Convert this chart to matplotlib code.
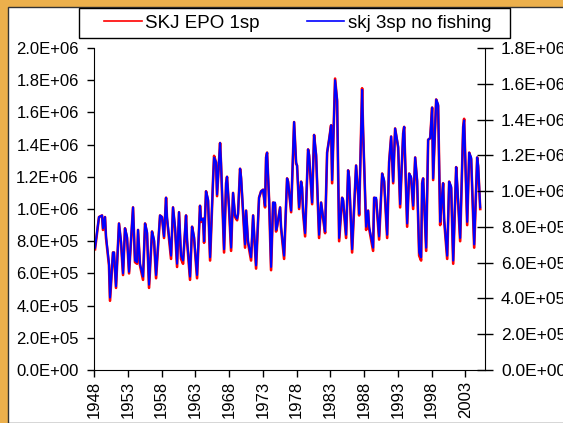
import matplotlib
matplotlib.use('Agg')
import matplotlib.pyplot as plt
from matplotlib.patches import Rectangle
from matplotlib.ticker import FuncFormatter, MultipleLocator

plt.rcParams['font.family'] = ['Liberation Sans', 'DejaVu Sans']

# Time axis (decimal years)
years = [
    1948.15, 1948.74, 1949.19, 1949.33, 1949.63, 1949.78, 1950.22, 1950.37, 1950.81, 1950.96,
    1951.26, 1951.70, 1952.00, 1952.30, 1952.59, 1952.89, 1953.19, 1953.78, 1954.07, 1954.37,
    1954.52, 1954.81, 1955.26, 1955.56, 1955.85, 1956.15, 1956.59, 1956.89, 1957.19, 1957.78,
    1958.07, 1958.37, 1958.67, 1958.81, 1959.41, 1959.70, 1960.00, 1960.30, 1960.59, 1960.89,
    1961.19, 1961.63, 1961.78, 1962.22, 1962.52, 1962.81, 1963.26, 1963.70, 1963.85, 1964.15,
    1964.30, 1964.59, 1964.89, 1965.19, 1965.63, 1965.78, 1966.07, 1966.22, 1966.67, 1966.81,
    1967.26, 1967.56, 1967.70, 1968.00, 1968.30, 1968.59, 1968.89, 1969.19, 1969.33, 1969.63,
    1969.78, 1970.37, 1970.52, 1970.81, 1971.26, 1971.56, 1972.00, 1972.44, 1972.74, 1973.04,
    1973.33, 1973.48, 1973.63, 1973.93, 1974.22, 1974.52, 1974.81, 1974.96, 1975.11, 1975.56,
    1975.70, 1976.15, 1976.59, 1976.74, 1977.19, 1977.63, 1977.93, 1978.07, 1978.37, 1978.67,
    1978.81, 1978.96, 1979.26, 1979.70, 1979.85, 1980.30, 1980.59, 1980.89, 1981.33, 1981.63,
    1981.93, 1982.22, 1982.52, 1982.81, 1983.11, 1983.26, 1983.70, 1984.00, 1984.30, 1984.74,
    1984.89, 1985.33, 1985.63, 1985.78, 1986.22, 1986.81, 1987.11, 1987.26, 1987.70, 1987.85,
    1988.30, 1988.59, 1988.74, 1989.33, 1989.48, 1989.78, 1990.22, 1990.67, 1990.96, 1991.41,
    1991.70, 1992.00, 1992.30, 1992.59, 1993.04, 1993.33, 1993.78, 1993.93, 1994.37, 1994.67,
    1994.96, 1995.26, 1995.56, 1995.85, 1996.15, 1996.44, 1996.59, 1996.74, 1997.19, 1997.48,
    1997.78, 1998.07, 1998.22, 1998.67, 1998.96, 1999.26, 1999.41, 1999.70, 1999.85, 2000.30,
    2000.59, 2000.89, 2001.19, 2001.63, 2001.78, 2002.22, 2002.67, 2002.81, 2003.26, 2003.56,
    2003.85, 2004.30, 2004.74, 2004.89, 2005.19,
]

# skj 3sp no fishing (blue)
skj_3sp = [
    0.76, 0.95, 0.96, 0.88, 0.95, 0.83, 0.66, 0.45, 0.73, 0.73,
    0.52, 0.91, 0.80, 0.60, 0.88, 0.83, 0.61, 1.01, 0.68, 0.67,
    0.87, 0.66, 0.58, 0.91, 0.86, 0.53, 0.86, 0.81, 0.59, 0.96,
    0.95, 0.83, 1.07, 0.95, 0.71, 1.01, 0.89, 0.66, 0.98, 0.71,
    0.68, 0.96, 0.81, 0.58, 0.89, 0.83, 0.59, 1.02, 0.93, 0.94,
    0.80, 1.11, 1.06, 0.70, 1.18, 1.32, 1.29, 1.09, 1.41, 1.29,
    0.75, 1.16, 1.20, 1.01, 0.76, 1.10, 0.96, 0.94, 0.97, 1.25,
    1.20, 0.78, 0.99, 0.80, 0.70, 0.96, 0.65, 1.07, 1.11, 1.12,
    1.02, 1.32, 1.35, 1.06, 0.64, 1.04, 1.04, 0.87, 0.89, 1.01,
    0.89, 0.71, 1.19, 1.17, 0.99, 1.54, 1.29, 1.27, 1.01, 1.17,
    1.14, 0.99, 0.85, 1.37, 1.34, 1.04, 1.46, 1.34, 0.84, 1.04,
    0.95, 0.86, 1.35, 1.43, 1.52, 1.18, 1.80, 1.68, 0.82, 1.07,
    1.06, 0.84, 1.24, 1.20, 0.75, 1.27, 1.10, 0.97, 1.74, 1.49,
    0.89, 0.99, 0.89, 0.76, 1.07, 1.07, 0.83, 1.22, 1.18, 0.84,
    1.29, 1.45, 1.17, 1.50, 1.39, 1.03, 1.47, 1.51, 0.91, 1.22,
    1.20, 1.02, 1.32, 1.18, 0.73, 0.70, 1.16, 1.19, 0.76, 1.43,
    1.44, 1.63, 1.19, 1.68, 1.65, 0.92, 1.01, 1.16, 0.94, 0.71,
    1.17, 1.14, 0.68, 1.26, 1.16, 0.82, 1.51, 1.55, 0.92, 1.35,
    1.32, 0.78, 1.32, 1.27, 1.01,
]

# SKJ EPO 1sp (red) - almost the same, troughs a touch deeper
skj_epo = [
    0.75, 0.95, 0.96, 0.87, 0.95, 0.82, 0.65, 0.43, 0.73, 0.73,
    0.51, 0.91, 0.79, 0.59, 0.88, 0.82, 0.60, 1.01, 0.67, 0.66,
    0.87, 0.65, 0.56, 0.91, 0.85, 0.51, 0.86, 0.80, 0.57, 0.96,
    0.95, 0.82, 1.07, 0.94, 0.69, 1.01, 0.88, 0.64, 0.98, 0.69,
    0.66, 0.96, 0.80, 0.56, 0.89, 0.82, 0.57, 1.02, 0.92, 0.94,
    0.79, 1.11, 1.05, 0.68, 1.18, 1.33, 1.29, 1.08, 1.41, 1.28,
    0.73, 1.16, 1.20, 1.00, 0.74, 1.10, 0.95, 0.93, 0.97, 1.25,
    1.19, 0.76, 0.99, 0.79, 0.68, 0.96, 0.63, 1.07, 1.11, 1.12,
    1.01, 1.32, 1.35, 1.05, 0.62, 1.04, 1.03, 0.86, 0.89, 1.01,
    0.88, 0.69, 1.19, 1.17, 0.98, 1.54, 1.28, 1.27, 1.00, 1.17,
    1.13, 0.98, 0.83, 1.37, 1.33, 1.03, 1.46, 1.33, 0.82, 1.04,
    0.94, 0.85, 1.35, 1.43, 1.52, 1.16, 1.81, 1.67, 0.80, 1.07,
    1.05, 0.82, 1.24, 1.19, 0.73, 1.27, 1.09, 0.96, 1.75, 1.48,
    0.87, 0.99, 0.88, 0.74, 1.07, 1.06, 0.81, 1.22, 1.17, 0.82,
    1.29, 1.45, 1.16, 1.50, 1.38, 1.01, 1.47, 1.51, 0.89, 1.22,
    1.19, 1.00, 1.32, 1.17, 0.71, 0.68, 1.16, 1.19, 0.74, 1.43,
    1.44, 1.63, 1.18, 1.68, 1.64, 0.90, 1.01, 1.16, 0.93, 0.69,
    1.17, 1.13, 0.66, 1.26, 1.15, 0.80, 1.51, 1.56, 0.90, 1.35,
    1.31, 0.76, 1.32, 1.26, 1.00,
]

tick_years = list(range(1948, 2004, 5))

fig = plt.figure(figsize=(5.63, 4.23), dpi=100)
fig.patch.set_facecolor('#ecb04c')
# white chart area sitting on the orange slide
fig.add_artist(Rectangle((8 / 563, 0), 1, (423 - 7) / 423, transform=fig.transFigure,
                         facecolor='white', edgecolor='#333333', linewidth=1, zorder=-10))

ax = fig.add_axes([94 / 563, 53 / 423, 391 / 563, 322 / 423])
ax.set_facecolor('none')
l1, = ax.plot(years, [v * 1e6 for v in skj_epo], color='#ff0000', lw=1.9, label='SKJ EPO 1sp')
l2, = ax.plot(years, [v * 1e6 for v in skj_3sp], color='#0000ff', lw=1.5, label='skj 3sp no fishing')

fmt = FuncFormatter(lambda v, p: '%.1E' % v)
ax.set_xlim(1948, 2005.9)
ax.set_ylim(0, 2.0e6)
ax.yaxis.set_major_locator(MultipleLocator(2e5))
ax.yaxis.set_major_formatter(fmt)
ax.set_xticks(tick_years)
ax.set_xticklabels([str(y) for y in tick_years], rotation=90)
ax.tick_params(axis='y', direction='out', length=5, width=1, pad=6, labelsize=12)
ax.tick_params(axis='x', direction='out', length=5, width=1, pad=3, labelsize=12)
for s in ['top', 'right']:
    ax.spines[s].set_visible(False)

ax2 = ax.twinx()
ax2.set_ylim(0, 1.8e6)
ax2.yaxis.set_major_locator(MultipleLocator(2e5))
ax2.yaxis.set_major_formatter(fmt)
ax2.tick_params(axis='y', direction='inout', length=11, width=1, pad=6, labelsize=12.5)
for s in ['top', 'left', 'bottom']:
    ax2.spines[s].set_visible(False)

# legend box drawn by hand so its size matches the original
fig.add_artist(Rectangle((79 / 563, (423 - 38) / 423), 431 / 563, 30 / 423,
                         transform=fig.transFigure, facecolor='white',
                         edgecolor='black', linewidth=1, zorder=5))
leg = fig.legend(handles=[l1, l2], loc='center left', ncol=2,
                 bbox_to_anchor=(104 / 563, (423 - 23) / 423),
                 frameon=False, fontsize=13.5, handlelength=2.0,
                 handletextpad=0.2, columnspacing=2.5, borderaxespad=0, borderpad=0)
leg.set_zorder(6)
for line in leg.get_lines():
    line.set_linewidth(1.2)

fig.savefig('out.png', dpi=100, facecolor=fig.get_facecolor())
